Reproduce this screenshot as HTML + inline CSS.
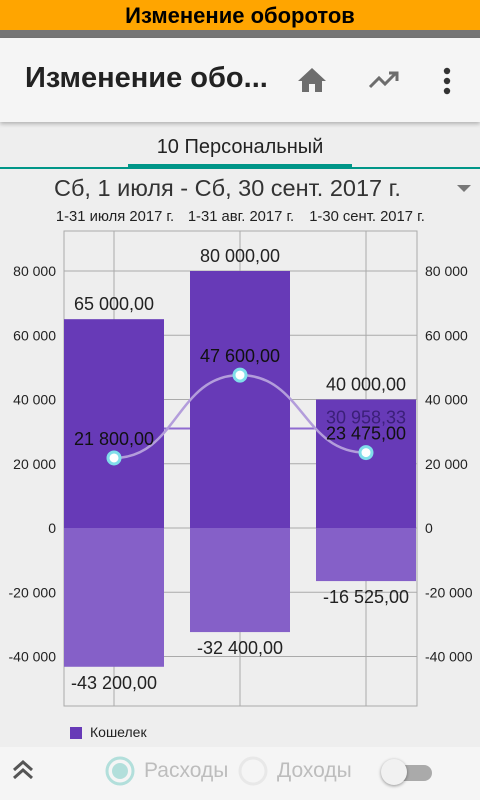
<!DOCTYPE html>
<html><head><meta charset="utf-8"><style>
*{margin:0;padding:0;box-sizing:border-box}
body{width:480px;height:800px;overflow:hidden;background:#eeeeee;font-family:"Liberation Sans",sans-serif;position:relative}
.abs{position:absolute}
</style></head><body>
<div class="abs" style="left:0;top:0;width:480px;height:30px;background:#ffa500;text-align:center;font-weight:bold;font-size:22px;line-height:31px;color:#000">Изменение оборотов</div>
<div class="abs" style="left:0;top:30px;width:480px;height:8px;background:#757575"></div>
<div class="abs" style="left:0;top:38px;width:480px;height:84px;background:#f5f5f5;box-shadow:0 2px 4px rgba(0,0,0,.25)">
 <div class="abs" style="left:25px;top:24px;font-size:29px;font-weight:bold;color:#222">Изменение обо...</div>
 <svg class="abs" style="left:296px;top:28px" width="32" height="28" viewBox="0 0 32 28"><path d="M16 2 L30 15 L26 15 L26 26 L19 26 L19 18 L13 18 L13 26 L6 26 L6 15 L2 15 Z" fill="#6d6d6d"/></svg>
 <svg class="abs" style="left:368px;top:32px" width="32" height="20" viewBox="0 0 32 20"><path d="M2 17 L11 8 L17 14 L27 4 M21 3 L29 3 L29 11" stroke="#6d6d6d" stroke-width="3" fill="none"/></svg>
 <svg class="abs" style="left:440px;top:28px" width="14" height="30"><circle cx="7" cy="5" r="3.2" fill="#333"/><circle cx="7" cy="15" r="3.2" fill="#333"/><circle cx="7" cy="25" r="3.2" fill="#333"/></svg>
</div>
<div class="abs" style="left:118px;top:136px;width:244px;text-align:center;font-size:20px;color:#222">10 Персональный</div>
<div class="abs" style="left:128px;top:164px;width:224px;height:3px;background:#009688"></div>
<div class="abs" style="left:0;top:167px;width:480px;height:2px;background:#009688"></div>
<div class="abs" style="left:54px;top:175px;font-size:23.5px;color:#333">Сб, 1 июля - Сб, 30 сент. 2017 г.</div>
<svg class="abs" style="left:456px;top:184px" width="16" height="10"><path d="M1 1 L15 1 L8 8 Z" fill="#777"/></svg>
<svg class="abs" style="left:0;top:0" width="480" height="800" id="chart" font-family="Liberation Sans, sans-serif"></svg>
<div class="abs" style="left:70px;top:727px;width:12px;height:12px;background:#673ab7"></div>
<div class="abs" style="left:90px;top:724px;font-size:14px;color:#222">Кошелек</div>
<div class="abs" style="left:0;top:747px;width:480px;height:53px;background:#f5f5f5">
 <svg class="abs" style="left:11px;top:10px" width="24" height="24"><path d="M3 13 L12 5 L21 13 M3 21 L12 13 L21 21" stroke="#555" stroke-width="3" fill="none"/></svg>
 <svg class="abs" style="left:104px;top:8px" width="32" height="32"><circle cx="16" cy="16" r="13" fill="none" stroke="#b2dfdb" stroke-width="3"/><circle cx="16" cy="16" r="8" fill="#b2dfdb"/></svg>
 <div class="abs" style="left:144px;top:12px;font-size:21px;color:#bdbdbd">Расходы</div>
 <svg class="abs" style="left:237px;top:8px" width="32" height="32"><circle cx="16" cy="16" r="13" fill="none" stroke="#e8e8e8" stroke-width="3"/></svg>
 <div class="abs" style="left:277px;top:12px;font-size:21px;color:#bdbdbd">Доходы</div>
 <div class="abs" style="left:392px;top:18px;width:40px;height:16px;border-radius:8px;background:#aaa"></div>
 <div class="abs" style="left:381px;top:12px;width:26px;height:26px;border-radius:13px;background:#f1f1f1;box-shadow:0 1px 3px rgba(0,0,0,.4)"></div>
</div>
<script>
const categories=["1-31 июля 2017 г.","1-31 авг. 2017 г.","1-30 сент. 2017 г."];
const positives=[65000,80000,40000];
const negatives=[-43200,-32400,-16525];
const lineValues=[21800,47600,23475];
const averageValue=30958.33;
const tickValues=[80000,60000,40000,20000,0,-20000,-40000];
const tickLabels=["80 000","60 000","40 000","20 000","0","-20 000","-40 000"];
const NS="http://www.w3.org/2000/svg";
const svg=document.getElementById('chart');
const L=64,R=417,T=231,B=706;
function y(v){return 528-v*257/80000;}
function cx(i){return 114+i*126;}
const bw=100;
function fmt(v){const s=Math.abs(v).toFixed(2).split('.');return (v<0?'-':'')+s[0].replace(/\B(?=(\d{3})+(?!\d))/g,' ')+','+s[1];}
function mk(tag,attrs,txt){const e=document.createElementNS(NS,tag);for(const k in attrs)e.setAttribute(k,attrs[k]);if(txt!==undefined)e.textContent=txt;svg.appendChild(e);return e;}
let e;
e=mk('rect',{x:L,y:T,width:R-L,height:B-T,fill:'none',stroke:'#aaa','stroke-width':1});


tickValues.forEach((v,i)=>{
 e=mk('line',{x1:L,x2:R,y1:y(v),y2:y(v),stroke:'#aaa','stroke-width':1});
 
 
 e=mk('text',{x:56,y:y(v)+5,'text-anchor':'end','font-size':14,fill:'#222'},tickLabels[i]);
 
 
 e=mk('text',{x:425,y:y(v)+5,'font-size':14,fill:'#222'},tickLabels[i]);
 
 
});
categories.forEach((c,i)=>{
 e=mk('line',{x1:cx(i),x2:cx(i),y1:T,y2:B,stroke:'#aaa','stroke-width':1});
 
 
 e=mk('text',{x:cx(i)+1,y:221,'text-anchor':'middle','font-size':14.8,fill:'#222'},c);
 
 
});
e=mk('line',{x1:cx(0),x2:cx(2),y1:y(averageValue),y2:y(averageValue),stroke:'#8f6bd0','stroke-width':2});


categories.forEach((c,i)=>{
 const x0=cx(i)-bw/2;
 e=mk('rect',{x:x0,y:y(positives[i]),width:bw,height:y(0)-y(positives[i]),fill:'#673ab7'});
 
 
 e=mk('rect',{x:x0,y:y(0),width:bw,height:y(negatives[i])-y(0),fill:'#8560c8'});
 
 
 e=mk('text',{x:cx(i),y:y(positives[i])-9,'text-anchor':'middle','font-size':18,fill:'#222'},fmt(positives[i]));
 
 
 e=mk('text',{x:cx(i),y:y(negatives[i])+22,'text-anchor':'middle','font-size':18,fill:'#222'},fmt(negatives[i]));
 
 
});
e=mk('text',{x:cx(2),y:y(averageValue)-5,'text-anchor':'middle','font-size':18,fill:'#3b1f78'},fmt(averageValue));


const pts=lineValues.map((v,i)=>[cx(i),y(v)]);
let d='M'+pts[0][0]+','+pts[0][1];
for(let i=0;i<pts.length-1;i++){const a=pts[i],b=pts[i+1],dx=(b[0]-a[0])/2;d+=' C'+(a[0]+dx)+','+a[1]+' '+(b[0]-dx)+','+b[1]+' '+b[0]+','+b[1];}
e=mk('path',{d:d,fill:'none',stroke:'#b39ddb','stroke-width':2.5});


lineValues.forEach((v,i)=>{
 e=mk('circle',{cx:cx(i),cy:y(v),r:6,fill:'#fff',stroke:'#80deea','stroke-width':3});
 
 
 e=mk('text',{x:cx(i),y:y(v)-13,'text-anchor':'middle','font-size':18,fill:'#111'},fmt(v));
 
 
});
</script>
</body></html>
